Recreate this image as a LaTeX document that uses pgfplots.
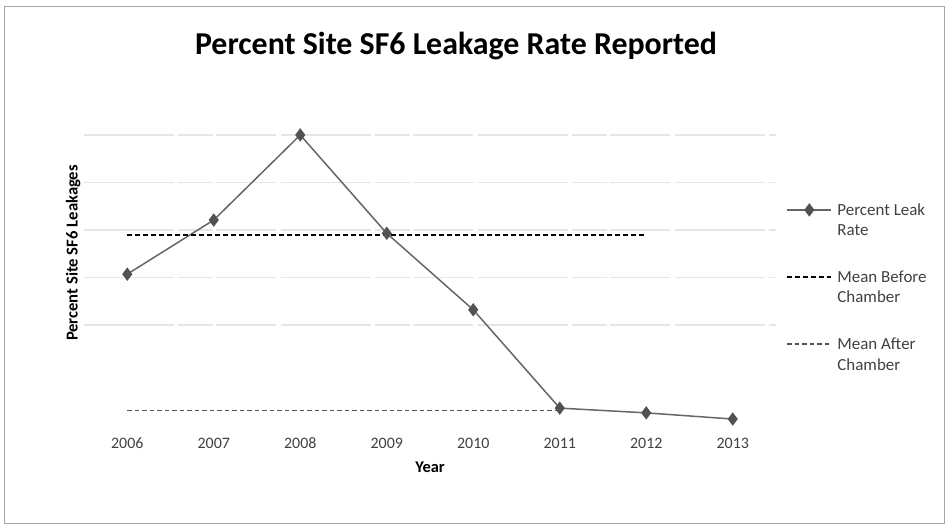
\documentclass[border=0pt]{standalone}
\usepackage{pgfplots}
\pgfplotsset{compat=1.18}
\usepackage{fontspec}
\setmainfont{Carlito}
\definecolor{seriesgray}{HTML}{666666}
\definecolor{labelgray}{HTML}{404040}
\definecolor{gridgray}{HTML}{E6E6E6}
\definecolor{aftergray}{HTML}{555555}
\begin{document}
\begin{tikzpicture}[x=1bp,y=1bp]
\path (0,0) rectangle (948,529);
\draw[gray!70, line width=0.8bp] (4,6) rectangle (944,523);
\node[font=\bfseries\fontsize{32}{36}\selectfont, anchor=center] at (456,483) {Percent Site SF6 Leakage Rate Reported};
\begin{axis}[
  at={(84bp,109bp)}, anchor=south west,
  width=692bp, height=285bp, scale only axis,
  xmin=-0.5, xmax=7.5, ymin=0, ymax=6,
  axis line style={draw=none},
  tick style={draw=none},
  xtick={0,...,7},
  xticklabels={2006,2007,2008,2009,2010,2011,2012,2013},
  ytick={2,3,4,5,6}, yticklabels={},
  ymajorgrids, major grid style={gridgray, line width=1.3bp, dash pattern=on 90bp off 4bp on 35bp off 3bp on 60bp off 5bp},
  major tick length=0pt,
  xticklabel style={font=\fontsize{16}{18}\selectfont, text=labelgray, text height=11bp, text depth=0bp, anchor=north, yshift=-14bp},
  /pgf/number format/assume math mode=true,
  xlabel={Year}, xlabel style={font=\bfseries\fontsize{16.5}{18}\selectfont, at={(axis description cs:0.5,0)}, yshift=-38bp, anchor=north},
  ylabel={Percent Site SF6 Leakages}, ylabel style={font=\bfseries\fontsize{16.7}{19}\selectfont, at={(axis description cs:0,0.6)}, anchor=south, xshift=-4bp},
  clip=false,
  legend image code/.code={\draw[#1, mark repeat=2, mark phase=2, yshift=10.5bp] plot coordinates {(0bp,0bp) (22bp,0bp) (44bp,0bp)};},
  legend style={draw=none, fill=none, at={(axis description cs:1.0145,0.775)}, anchor=north west,
    font=\fontsize{17}{21}\selectfont, text=labelgray, cells={align=left, anchor=west}, row sep=29bp,
    inner xsep=0pt, column sep=3bp},
  legend cell align=left,
]
\addplot[seriesgray, line width=1.5bp, mark=diamond*, mark size=5.5bp, mark options={fill=seriesgray!80!black, draw=seriesgray!80!black}] coordinates {
  (0,3.07) (1,4.21) (2,6.0) (3,3.93) (4,2.32) (5,0.25) (6,0.15) (7,0.02)};
\addlegendentry{Percent Leak\\Rate}
\addplot[black, line width=2.2bp, dash pattern=on 5bp off 3bp] coordinates {(0,3.89) (6,3.89)};
\addlegendentry{Mean Before\\Chamber}
\addplot[aftergray, line width=1.6bp, dash pattern=on 4.5bp off 3bp] coordinates {(0,0.2) (5,0.2)};
\addlegendentry{Mean After\\Chamber}
\end{axis}
\end{tikzpicture}
\end{document}
